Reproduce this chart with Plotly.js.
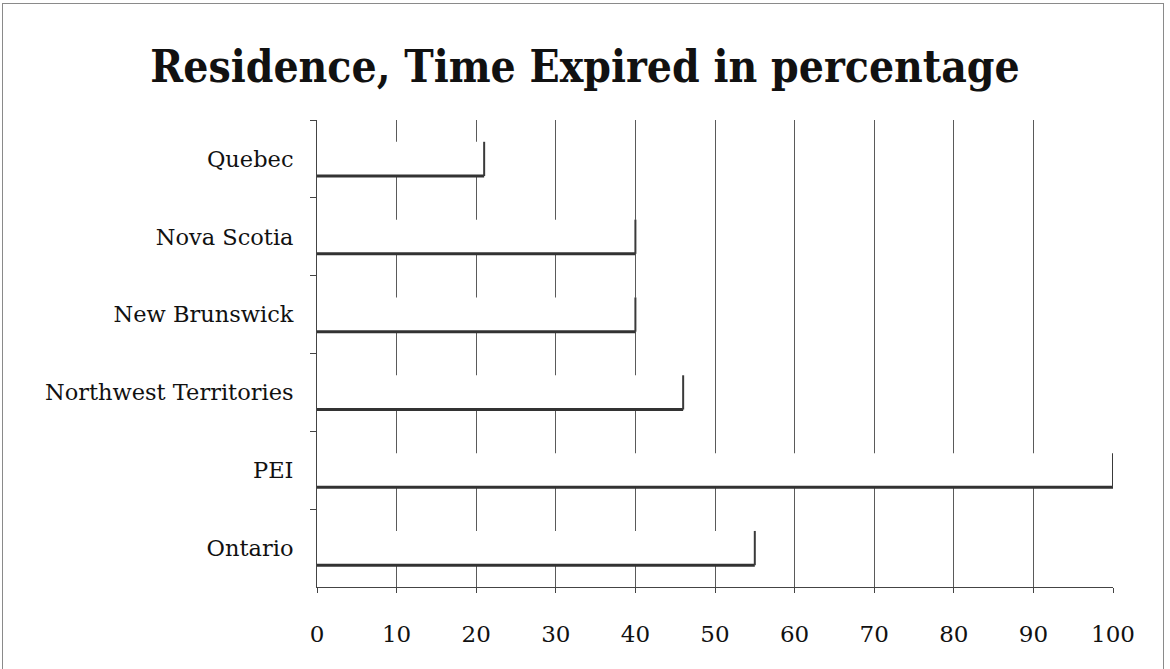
<!DOCTYPE html>
<html>
<head>
<meta charset="utf-8">
<script src="https://cdn.plot.ly/plotly-3.0.1.min.js"></script>
<style>
  html, body { margin: 0; padding: 0; background: #fff; overflow: hidden; }
  #frame { position: absolute; left: 2px; top: 3px; width: 1162px; height: 720px;
           border: 1px solid #8a8a8a; box-sizing: border-box; }
  #chart { position: absolute; left: 0; top: 0; width: 1170px; height: 669px; }
</style>
</head>
<body>
<div id="frame"></div>
<div id="chart"></div>
<script>
// Share of residence time expired, by province / territory (percent)
const provinces = ['Quebec', 'Nova Scotia', 'New Brunswick', 'Northwest Territories', 'PEI', 'Ontario'];
const expiredPct = [21, 40, 40, 46, 100, 55];
const xTicks = [0, 10, 20, 30, 40, 50, 60, 70, 80, 90, 100];

const BAR_W = 0.44;
const serif = '"DejaVu Serif", "Liberation Serif", serif';

const bars = {
  type: 'bar',
  orientation: 'h',
  y: provinces,
  x: expiredPct,
  width: BAR_W,
  marker: { color: '#ffffff', line: { width: 0 } },
  hoverinfo: 'x+y'
};

// Dark lower edge and right end of each bar
const edges = [];
expiredPct.forEach((v, i) => {
  const bottom = i + BAR_W / 2, top = i - BAR_W / 2;
  edges.push({ type: 'line', xref: 'x', yref: 'y', x0: 0, x1: v, y0: bottom, y1: bottom,
               line: { color: '#333333', width: 3 }, layer: 'above' });
  edges.push({ type: 'line', xref: 'x', yref: 'y', x0: v, x1: v, y0: top, y1: bottom,
               line: { color: '#3a3a3a', width: 2 }, layer: 'above' });
});

const layout = {
  width: 1170,
  height: 669,
  paper_bgcolor: 'rgba(0,0,0,0)',
  plot_bgcolor: '#ffffff',
  margin: { l: 317, r: 57, t: 120, b: 82, pad: 0 },
  showlegend: false,
  title: {
    text: '<b>Residence, Time Expired in percentage</b>',
    font: { family: '"DejaVu Serif Condensed", "DejaVu Serif", serif', size: 44, color: '#111111' },
    x: 0.5, xanchor: 'center',
    y: 1 - 67 / 669, yanchor: 'middle'
  },
  xaxis: {
    range: [0, 100],
    tickmode: 'array',
    tickvals: xTicks,
    ticktext: xTicks.map(String),
    showgrid: true,
    gridcolor: '#5a5a5a',
    gridwidth: 1,
    zeroline: false,
    showline: true,
    linecolor: '#444444',
    linewidth: 1,
    ticks: 'outside',
    ticklen: 5,
    tickcolor: '#444444',
    ticklabelstandoff: 21,
    tickfont: { family: serif, size: 23, color: '#111111' },
    fixedrange: true
  },
  yaxis: {
    type: 'category',
    categoryorder: 'array',
    categoryarray: provinces,
    autorange: 'reversed',
    showgrid: false,
    zeroline: false,
    showline: true,
    linecolor: '#444444',
    linewidth: 1,
    ticks: 'outside',
    tickson: 'boundaries',
    ticklen: 6,
    tickcolor: '#444444',
    ticklabelstandoff: 18,
    tickfont: { family: serif, size: 22.5, color: '#111111' },
    fixedrange: true
  },
  shapes: edges
};

Plotly.newPlot('chart', [bars], layout, { displayModeBar: false, staticPlot: true });
</script>
</body>
</html>
